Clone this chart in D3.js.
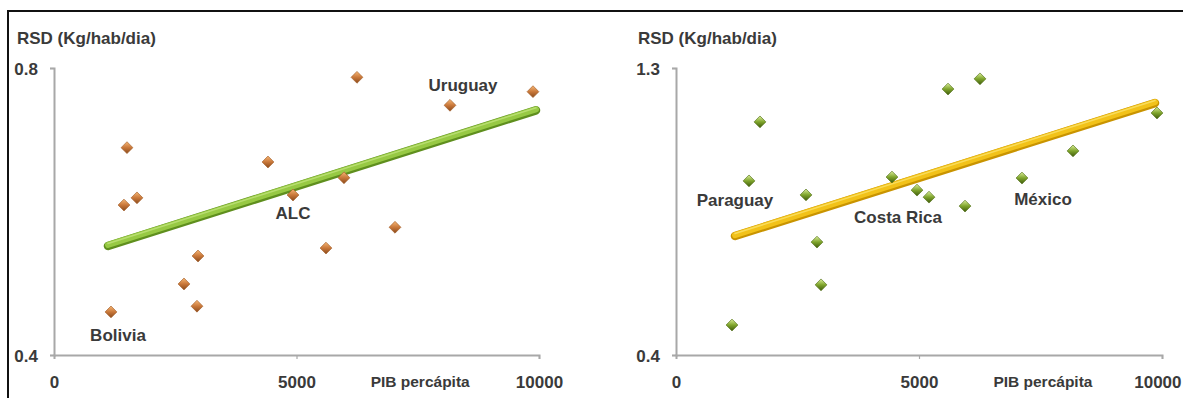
<!DOCTYPE html>
<html><head><meta charset="utf-8">
<script src="https://cdn.jsdelivr.net/npm/d3@7"></script>
<style>
html,body{margin:0;padding:0;background:#fff;}
svg text{font-family:"Liberation Sans",Arial,sans-serif;font-weight:bold;fill:#3a3a3a;}
</style></head>
<body>
<svg id="c" width="1183" height="398"></svg>
<script>
// ---- data ----
const yTitle = "RSD (Kg/hab/dia)";
const xTitle = "PIB percápita";
const xTicks = [0, 5000, 10000];

// left panel (orange points, green trend)
const leftX = [1175, 1443, 1711, 1505, 2680, 2969, 2948, 4412, 4928, 5608, 5979, 6247, 7031, 8165, 9876];
const leftY = [0.460, 0.609, 0.619, 0.689, 0.499, 0.538, 0.468, 0.669, 0.623, 0.549, 0.647, 0.787, 0.578, 0.748, 0.767];
const leftTrendX = [1113, 9938];
const leftTrendY = [0.552, 0.741];
const leftYTicks = [0.4, 0.8];
const leftLabels = ["Bolivia", "ALC", "Uruguay"];
const leftLabelIdx = [0, 8, 13];

// right panel (green points, yellow trend)
const rightX = [1152, 1502, 1728, 2675, 2901, 2984, 4444, 4959, 5206, 5597, 5947, 6255, 7119, 8169, 9897];
const rightY = [0.494, 0.946, 1.131, 0.902, 0.754, 0.620, 0.958, 0.917, 0.895, 1.234, 0.867, 1.266, 0.955, 1.040, 1.159];
const rightTrendX = [1214, 9856];
const rightTrendY = [0.773, 1.190];
const rightYTicks = [0.4, 1.3];
const rightLabels = ["Paraguay", "Costa Rica", "México"];
const rightLabelIdx = [1, 7, 12];

// ---- drawing ----
const svg = d3.select("#c");
const defs = svg.append("defs");

function grad(id, c1, c2, c3) {
  const g = defs.append("linearGradient").attr("id", id)
    .attr("x1", "0").attr("y1", "0").attr("x2", "1").attr("y2", "1");
  g.append("stop").attr("offset", "0").attr("stop-color", c1);
  g.append("stop").attr("offset", "0.5").attr("stop-color", c2);
  g.append("stop").attr("offset", "1").attr("stop-color", c3);
}
grad("gOrange", "#f6b674", "#c9783a", "#8a4a1c");
grad("gGreen", "#dcef9a", "#7fa52c", "#3e5a0c");

// frame
svg.append("rect").attr("x", 8).attr("y", 11).attr("width", 1200).attr("height", 420)
  .attr("fill", "none").attr("stroke", "#111").attr("stroke-width", 2);

const panels = [
  {xr: [54, 539], yd: [0.4, 0.8], xs: leftX, ys: leftY, tx: leftTrendX, ty: leftTrendY,
   yt: leftYTicks, lab: leftLabels, li: leftLabelIdx, titleX: 17, lastTickRight: false,
   marker: "url(#gOrange)", mstroke: "#a05a24",
   lineDark: "#5f8f1e", lineLight: "#97c944", lineHi: "#b8de70",
   offs: [[7, 23], [0, 18], [13, -20]]},
  {xr: [676, 1162], yd: [0.4, 1.3], xs: rightX, ys: rightY, tx: rightTrendX, ty: rightTrendY,
   yt: rightYTicks, lab: rightLabels, li: rightLabelIdx, titleX: 638, lastTickRight: true,
   marker: "url(#gGreen)", mstroke: "#4f6e14",
   lineDark: "#c99400", lineLight: "#f2c219", lineHi: "#f9dc5a",
   offs: [[-14, 19], [-19, 27], [21, 21]]}
];

panels.forEach(p => {
  const x = d3.scaleLinear().domain([0, 10000]).range(p.xr);
  const y = d3.scaleLinear().domain(p.yd).range([355, 68]);
  const g = svg.append("g");

  // axes
  const ax = g.append("g").attr("transform", "translate(0,355)")
    .call(d3.axisBottom(x).tickValues(xTicks).tickFormat(d3.format("d")).tickSize(4).tickSizeOuter(4));
  ax.selectAll("text").attr("y", 27).attr("dy", "0.35em").style("font-size", "17px").style("fill", "#3a3a3a");
  ax.selectAll("line").attr("stroke", "#a8a8a8").attr("stroke-width", 1.2);
  ax.select(".domain").attr("stroke", "#a8a8a8").attr("stroke-width", 2);
  ax.selectAll(".tick").filter(d => d === 0).select("line").remove();
  if (p.lastTickRight) {
    // keep the last label inside the page
    ax.selectAll(".tick").filter(d => d === 10000).select("text")
      .attr("text-anchor", "end").attr("x", 1181 - p.xr[1]);
  }

  const ay = g.append("g").attr("transform", `translate(${p.xr[0]},0)`)
    .call(d3.axisLeft(y).tickValues(p.yt).tickFormat(d3.format(".1f")).tickSize(4).tickSizeOuter(4).tickPadding(12));
  ay.selectAll("text").style("font-size", "17px").attr("dy", "0.38em").style("fill", "#3a3a3a");
  ay.selectAll("line").attr("stroke", "#a8a8a8").attr("stroke-width", 1.2);
  ay.select(".domain").attr("stroke", "#a8a8a8").attr("stroke-width", 2);

  // titles
  g.append("text").attr("x", p.titleX).attr("y", 44).style("font-size", "17px").text(yTitle);
  g.append("text").attr("x", x(7550)).attr("y", 382).attr("dy", "0.35em")
    .attr("text-anchor", "middle").style("font-size", "15.5px").text(xTitle);

  // trend line (3D tube look)
  const tl = d3.line().x(d => x(d[0])).y(d => y(d[1]));
  const tdata = p.tx.map((v, i) => [v, p.ty[i]]);
  g.append("path").attr("d", tl(tdata)).attr("stroke", p.lineDark).attr("stroke-width", 8.5)
    .attr("stroke-linecap", "round").attr("fill", "none");
  g.append("path").attr("d", tl(tdata)).attr("stroke", p.lineLight).attr("stroke-width", 6)
    .attr("stroke-linecap", "round").attr("fill", "none").attr("transform", "translate(0,-1)");
  g.append("path").attr("d", tl(tdata)).attr("stroke", p.lineHi).attr("stroke-width", 1.5)
    .attr("stroke-linecap", "round").attr("fill", "none").attr("transform", "translate(0,-2.5)");

  // points (diamonds)
  const pts = p.xs.map((v, i) => [v, p.ys[i]]);
  const sym = d3.symbol().type(d3.symbolSquare).size(70);
  g.selectAll("path.pt").data(pts).join("path").attr("class", "pt")
    .attr("d", sym)
    .attr("transform", d => `translate(${x(d[0])},${y(d[1])}) rotate(45)`)
    .attr("fill", p.marker).attr("stroke", p.mstroke).attr("stroke-width", 0.6);

  // point labels
  p.lab.forEach((t, k) => {
    const d = pts[p.li[k]];
    g.append("text").attr("x", x(d[0]) + p.offs[k][0]).attr("y", y(d[1]) + p.offs[k][1])
      .attr("dy", "0.35em").attr("text-anchor", "middle").style("font-size", "17px").text(t);
  });
});
</script>
</body></html>
